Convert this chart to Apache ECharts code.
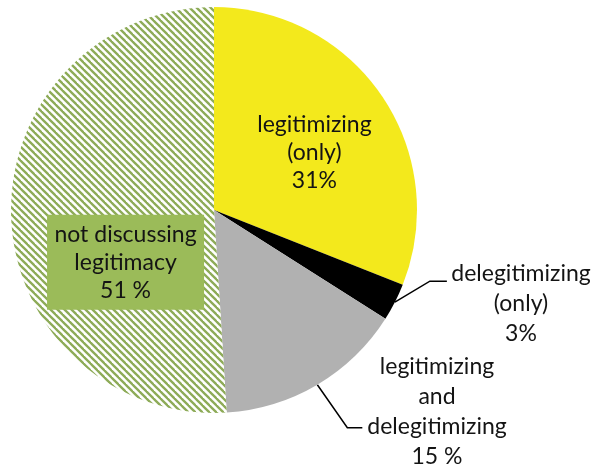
<!DOCTYPE html>
<html>
<head>
<meta charset="utf-8">
<script src="https://cdn.jsdelivr.net/npm/echarts@6/dist/echarts.min.js"></script>
<style>
  html, body { margin: 0; padding: 0; background: #fff; }
  #chart { width: 592px; height: 469px; }
</style>
</head>
<body>
<div id="chart"></div>
<script>
// Share of texts by how they treat legitimacy
const categories = [
  'legitimizing\n(only)',
  'delegitimizing\n(only)',
  'legitimizing\nand\ndelegitimizing',
  'not discussing\nlegitimacy'
];
const values = [31, 3, 15, 51];
const valueLabels = ['31%', '3%', '15 %', '51 %'];
const colors = ['#f3e91c', '#000000', '#b1b1b1', null];

// Diagonal hatch fill for the "not discussing" slice
function hatchPattern() {
  const s = 7;
  const c = document.createElement('canvas');
  c.width = s; c.height = s;
  const g = c.getContext('2d');
  g.fillStyle = '#ffffff';
  g.fillRect(0, 0, s, s);
  g.strokeStyle = '#8dab57';
  g.lineWidth = 2.3;
  for (let k = -1; k <= 1; k++) {
    g.beginPath();
    g.moveTo(-2, k * s - 2);
    g.lineTo(s + 2, k * s + s + 2);
    g.stroke();
  }
  return { image: c, repeat: 'repeat' };
}

const font = 'Lato, "Open Sans", sans-serif';
const baseLabel = { fontFamily: font, fontSize: 23, lineHeight: 28, color: '#141414', align: 'center' };

const data = categories.map((name, i) => {
  const outside = (i === 1 || i === 2);
  const item = {
    name: name,
    value: values[i],
    itemStyle: { color: colors[i] === null ? hatchPattern() : colors[i] },
    label: Object.assign({}, baseLabel, {
      formatter: name + '\n' + valueLabels[i],
      position: outside ? 'outside' : 'inside',
      lineHeight: outside ? 30 : 28
    })
  };
  if (i === 3) {
    item.label.backgroundColor = '#9bbb59';
    item.label.padding = [6, 4, 5, 4];
    item.label.width = 149;
    item.label.overflow = 'none';
  }
  return item;
});

const chart = echarts.init(document.getElementById('chart'), null, { renderer: 'canvas' });
chart.setOption({
  animation: false,
  backgroundColor: '#ffffff',
  series: [{
    type: 'pie',
    center: [214, 210],
    radius: 203,
    startAngle: 90,
    clockwise: true,
    avoidLabelOverlap: false,
    itemStyle: { borderWidth: 0 },
    labelLine: { show: true, lineStyle: { color: '#000', width: 1.5 }, length: 20, length2: 15 },
    emphasis: { disabled: true },
    data: data,
    labelLayout: function (p) {
      const pts = p.labelLinePoints;
      if (p.dataIndex === 0) {
        return { dx: 14, dy: 1 };
      }
      if (p.dataIndex === 3) {
        return { dx: 16, dy: 49 };
      }
      if (p.dataIndex === 1 && pts) {
        const s = pts[0];
        return {
          x: 521, y: 304, align: 'center', verticalAlign: 'middle',
          labelLinePoints: [[s[0], s[1]], [s[0] + 35, s[1] - 21], [s[0] + 52, s[1] - 21]]
        };
      }
      if (p.dataIndex === 2 && pts) {
        const s = pts[0];
        return {
          x: 437, y: 412, align: 'center', verticalAlign: 'middle',
          labelLinePoints: [[s[0], s[1]], [s[0] + 30, s[1] + 43], [s[0] + 45, s[1] + 43]]
        };
      }
      return {};
    }
  }]
});
</script>
</body>
</html>
